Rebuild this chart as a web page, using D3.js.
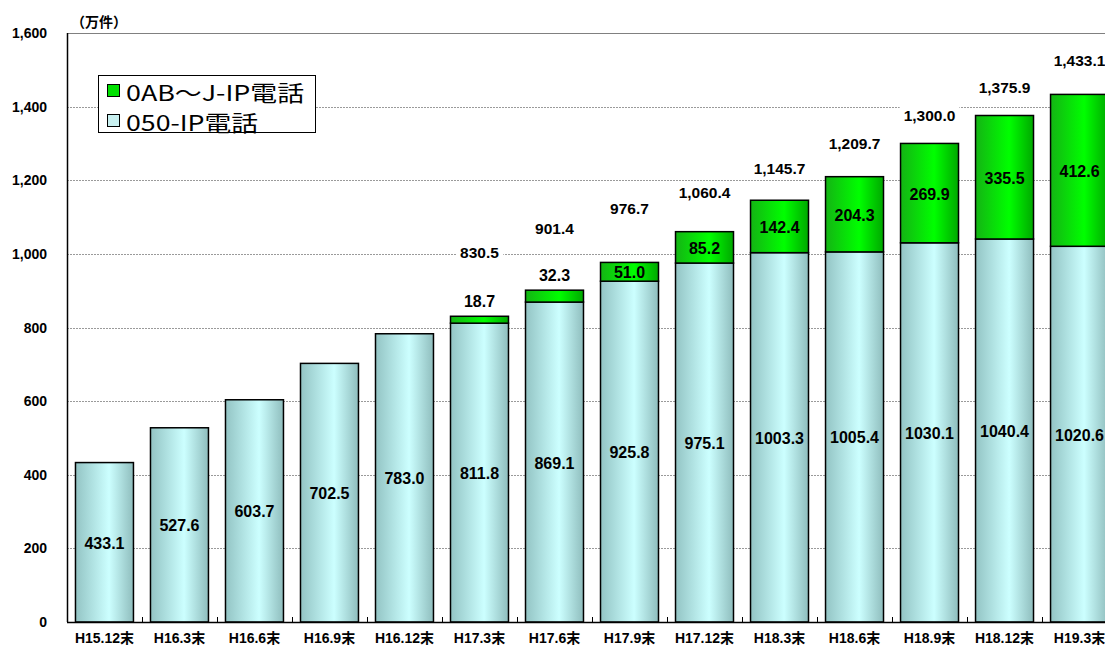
<!DOCTYPE html>
<html><head><meta charset="utf-8">
<script src="https://cdn.jsdelivr.net/npm/d3@7"></script>
<style>
html,body{margin:0;padding:0;background:#fff;overflow:hidden}
svg{display:block}
</style></head>
<body><svg id="c" width="1105" height="647"></svg>
<script>
const categories = ["H15.12末","H16.3末","H16.6末","H16.9末","H16.12末","H17.3末","H17.6末","H17.9末","H17.12末","H18.3末","H18.6末","H18.9末","H18.12末","H19.3末"];
const ip050 = [433.1,527.6,603.7,702.5,783.0,811.8,869.1,925.8,975.1,1003.3,1005.4,1030.1,1040.4,1020.6];
const ip0ABJ = [0,0,0,0,0,18.7,32.3,51.0,85.2,142.4,204.3,269.9,335.5,412.6];
const totalLabels = [null,null,null,null,null,"830.5","901.4","976.7","1,060.4","1,145.7","1,209.7","1,300.0","1,375.9","1,433.1"];
// level (in 万件) at which each total label sits
const totalLabelLevel = [null,null,null,null,null,1005,1068,1122,1168,1233,1301,1377,1451,1524];
const yTicks = [0,200,400,600,800,1000,1200,1400,1600];
const legendNames = ["0AB～J-IP電話","050-IP電話"];

const svg = d3.select("#c");
const L = 67, T = 33, B = 622, step = 75;
const x = d3.scaleBand().domain(categories).range([L, L + step*categories.length]).paddingInner(0.227).paddingOuter(0.113);
const y = d3.scaleLinear().domain([0,1600]).range([B,T]);

const defs = svg.append("defs");
function grad(id, edgeL, mid, edgeR){
  const g = defs.append("linearGradient").attr("id",id).attr("x1","0%").attr("x2","100%").attr("y1","0%").attr("y2","0%");
  g.append("stop").attr("offset","0%").attr("stop-color",edgeL);
  g.append("stop").attr("offset","58%").attr("stop-color",mid);
  g.append("stop").attr("offset","100%").attr("stop-color",edgeR);
}
grad("gCyan","#93c4c4","#ccffff","#8fbdbd");
grad("gGreen","#14b414","#00ff00","#00a800");

// gridlines
svg.append("g").selectAll("line").data(yTicks.filter(d=>d>0)).join("line")
  .attr("x1",L).attr("x2",1105).attr("y1",d=>Math.round(y(d))+0.5).attr("y2",d=>Math.round(y(d))+0.5)
  .attr("stroke",d=>d===1600?"#808080":"#9a9a9a").attr("stroke-width",1).attr("stroke-dasharray",d=>d===1600?null:"2,1");

// y labels
svg.append("g").selectAll("text").data(yTicks).join("text")
  .attr("x",47).attr("y",d=>y(d)).attr("text-anchor","end").attr("dominant-baseline","central")
  .style("font","bold 14px 'Liberation Sans', Arial, sans-serif").text(d=>d3.format(",")(d));

svg.append("text").attr("x",71).attr("y",21).attr("dominant-baseline","central")
  .style("font","bold 14px 'Noto Sans CJK JP', sans-serif").text("（万件）");

// bars
const gb = svg.append("g");
gb.selectAll("rect.c").data(categories).join("rect").attr("class","c")
  .attr("x",d=>x(d)).attr("width",x.bandwidth())
  .attr("y",(d,i)=>y(ip050[i])).attr("height",(d,i)=>y(0)-y(ip050[i]))
  .attr("fill","url(#gCyan)").attr("stroke","#000").attr("stroke-width",1.5);
gb.selectAll("rect.g").data(categories.filter((d,i)=>ip0ABJ[i]>0)).join("rect").attr("class","g")
  .attr("x",d=>x(d)).attr("width",x.bandwidth())
  .attr("y",d=>{const i=categories.indexOf(d);return y(ip050[i]+ip0ABJ[i]);})
  .attr("height",d=>{const i=categories.indexOf(d);return y(ip050[i])-y(ip050[i]+ip0ABJ[i]);})
  .attr("fill","url(#gGreen)").attr("stroke","#000").attr("stroke-width",1.5);

// axes lines
svg.append("line").attr("x1",L+0.5).attr("x2",L+0.5).attr("y1",T).attr("y2",B).attr("stroke","#000").attr("stroke-width",1.5);
svg.append("line").attr("x1",L).attr("x2",1105).attr("y1",B+0.5).attr("y2",B+0.5).attr("stroke","#000").attr("stroke-width",1.5);
// x ticks (inside, at category boundaries)
svg.append("g").selectAll("line").data(d3.range(1,categories.length+1)).join("line")
  .attr("x1",i=>L+i*step+0.5).attr("x2",i=>L+i*step+0.5).attr("y1",B).attr("y2",B-5)
  .attr("stroke","#000").attr("stroke-width",1);

// x labels
svg.append("g").selectAll("text").data(categories).join("text")
  .attr("x",d=>x(d)+x.bandwidth()/2).attr("y",638).attr("text-anchor","middle").attr("dominant-baseline","central")
  .style("font","bold 14px 'Liberation Sans', 'Noto Sans CJK JP', sans-serif").text(d=>d);

const numFont = "bold 16px 'Liberation Sans', Arial, sans-serif";
// 050 labels
svg.append("g").selectAll("text").data(categories).join("text")
  .attr("x",d=>x(d)+x.bandwidth()/2).attr("y",(d,i)=>(y(0)+y(ip050[i]))/2+1)
  .attr("text-anchor","middle").attr("dominant-baseline","central").style("font",numFont)
  .text((d,i)=>ip050[i].toFixed(1));
// 0AB labels
svg.append("g").selectAll("text").data(categories.filter((d,i)=>ip0ABJ[i]>0)).join("text")
  .attr("x",d=>x(d)+x.bandwidth()/2)
  .attr("y",d=>{const i=categories.indexOf(d);const top=y(ip050[i]+ip0ABJ[i]), bot=y(ip050[i]);
     return (bot-top)<18 ? top-15 : (top+bot)/2+1;})
  .attr("text-anchor","middle").attr("dominant-baseline","central").style("font",numFont)
  .text(d=>ip0ABJ[categories.indexOf(d)].toFixed(1));
// total labels
const tl = svg.append("g").selectAll("g").data(categories.filter((d,i)=>totalLabels[i])).join("g");
tl.each(function(d){
  const i = categories.indexOf(d);
  const g = d3.select(this);
  const cx = x(d)+x.bandwidth()/2, cy = y(totalLabelLevel[i]);
  const t = g.append("text").attr("x",cx).attr("y",cy).attr("text-anchor","middle").attr("dominant-baseline","central")
    .style("font","bold 15.5px 'Liberation Sans', Arial, sans-serif").text(totalLabels[i]);
  const bb = t.node().getBBox();
  g.insert("rect","text").attr("x",bb.x-4).attr("y",bb.y).attr("width",bb.width+8).attr("height",bb.height).attr("fill","#fff");
});

// legend
const lg = svg.append("g");
lg.append("rect").attr("x",98.5).attr("y",75.5).attr("width",217).attr("height",57).attr("fill","#fff").attr("stroke","#000").attr("stroke-width",1);
const legFills = ["#00e000","#c8f0f0"];
const legY = [91,121];
const legW = [178,132];
legendNames.forEach((n,i)=>{
  lg.append("rect").attr("x",107.5).attr("y",legY[i]-6.5).attr("width",12).attr("height",12)
    .attr("fill",legFills[i]).attr("stroke","#000").attr("stroke-width",1);
  lg.append("text").attr("x",126).attr("y",legY[i]).attr("dominant-baseline","central")
    .attr("textLength",legW[i]).attr("lengthAdjust","spacingAndGlyphs")
    .style("font","22px 'Noto Sans CJK JP', sans-serif").text(n);
});
</script></body></html>
